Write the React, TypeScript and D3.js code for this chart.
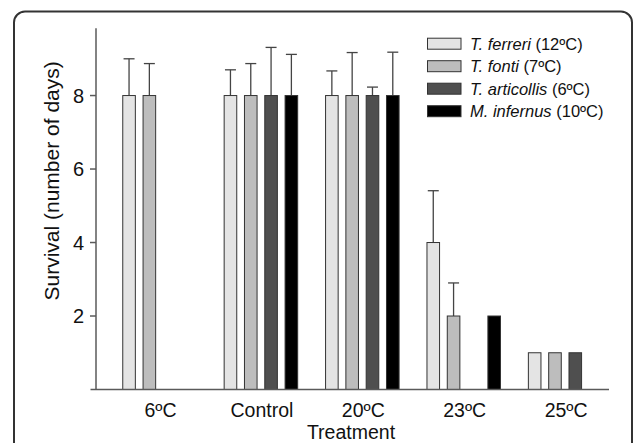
import React from "react";
import * as d3 from "d3";

const treatments = ["6ºC", "Control", "20ºC", "23ºC", "25ºC"];
const speciesNames = ["T. ferreri", "T. fonti", "T. articollis", "M. infernus"];
const speciesTemps = [" (12ºC)", " (7ºC)", " (6ºC)", " (10ºC)"];
const speciesColors = ["#e4e4e4", "#bdbdbd", "#4f4f4f", "#000000"];

// survival means per species, indexed by treatment (null = no bar)
const ferreri = [8, 8, 8, 4, 1];
const fonti = [8, 8, 8, 2, 1];
const articollis = [null, 8, 8, null, 1];
const infernus = [null, 8, 8, 2, null];
// error (SD) per species, indexed by treatment
const ferreriErr = [1.0, 0.7, 0.67, 1.41, 0];
const fontiErr = [0.87, 0.87, 1.17, 0.9, 0];
const articollisErr = [0, 1.31, 0.23, 0, 0];
const infernusErr = [0, 1.12, 1.18, 0, 0];

const yTicks = [2, 4, 6, 8];

const W = 633;
const H = 443;

export default function App() {
  const values = [ferreri, fonti, articollis, infernus];
  const errs = [ferreriErr, fontiErr, articollisErr, infernusErr];

  const x0 = d3
    .scaleBand<string>()
    .domain(treatments)
    .range([96, 609])
    .paddingInner(0.275)
    .paddingOuter(0.167)
    .align(0.79);
  const x1 = d3
    .scaleBand<string>()
    .domain(speciesNames)
    .range([0, x0.bandwidth()])
    .paddingInner(0.38)
    .paddingOuter(0);
  const y = d3.scaleLinear().domain([0, 9.83]).range([389.5, 28.3]);

  const font = "Liberation Sans, Arial, Helvetica, sans-serif";
  const axisColor = "#5a5a5a";

  return (
    <svg
      width={W}
      height={H}
      style={{ position: "absolute", left: 0, top: 0, background: "#fff" }}
      fontFamily={font}
    >
      <rect x={0} y={0} width={W} height={H} fill="#fff" />
      {/* outer frame */}
      <rect
        x={14}
        y={11.5}
        width={618}
        height={470}
        rx={11}
        ry={11}
        fill="none"
        stroke="#333"
        strokeWidth={2}
      />

      {/* bars */}
      {treatments.map((t, ti) => (
        <g key={t} transform={`translate(${x0(t)},0)`}>
          {speciesNames.map((s, si) => {
            const v = values[si][ti];
            if (v == null) return null;
            const bx = x1(s)!;
            const bw = x1.bandwidth();
            const e = errs[si][ti];
            return (
              <g key={s}>
                {e > 0 && (
                  <g stroke="#444" strokeWidth={1.3}>
                    <line x1={bx + bw / 2} x2={bx + bw / 2} y1={y(v)} y2={y(v + e)} />
                    <line x1={bx + bw / 2 - 5.5} x2={bx + bw / 2 + 5.5} y1={y(v + e)} y2={y(v + e)} />
                  </g>
                )}
                <rect
                  x={bx}
                  y={y(v)}
                  width={bw}
                  height={y(0) - y(v)}
                  fill={speciesColors[si]}
                  stroke="#333"
                  strokeWidth={1}
                />
              </g>
            );
          })}
        </g>
      ))}

      {/* y axis */}
      <line x1={96} x2={96} y1={y.range()[1]} y2={y(0)} stroke={axisColor} strokeWidth={1.5} />
      {yTicks.map((t) => (
        <g key={t}>
          <line x1={90} x2={96} y1={y(t)} y2={y(t)} stroke={axisColor} strokeWidth={1.5} />
          <text x={84} y={y(t)} dy="0.36em" textAnchor="end" fontSize={20} fill="#111">
            {t}
          </text>
        </g>
      ))}
      <text
        transform={`translate(59,${(y(0) + y.range()[1]) / 2 - 28}) rotate(-90)`}
        textAnchor="middle"
        fontSize={21}
        fill="#111"
      >
        Survival (number of days)
      </text>

      {/* x axis */}
      <line x1={90.5} x2={609} y1={y(0)} y2={y(0)} stroke={axisColor} strokeWidth={1.5} />
      {treatments.map((t) => (
        <text
          key={t}
          x={x0(t)! + x0.bandwidth() / 2 + 1}
          y={416.5}
          textAnchor="middle"
          fontSize={19.5}
          fill="#111"
        >
          {t}
        </text>
      ))}
      <text x={351} y={438.5} textAnchor="middle" fontSize={19.5} fill="#111">
        Treatment
      </text>

      {/* legend */}
      {speciesNames.map((s, i) => {
        const cy = 43.7 + i * 22.5;
        return (
          <g key={s}>
            <rect
              x={427.5}
              y={cy - 5.5}
              width={33.5}
              height={11}
              fill={speciesColors[i]}
              stroke="#333"
              strokeWidth={1}
            />
            <text x={470} y={cy + 6} fontSize={16.5} fill="#111">
              <tspan fontStyle="italic">{s}</tspan>
              <tspan>{speciesTemps[i]}</tspan>
            </text>
          </g>
        );
      })}
    </svg>
  );
}
